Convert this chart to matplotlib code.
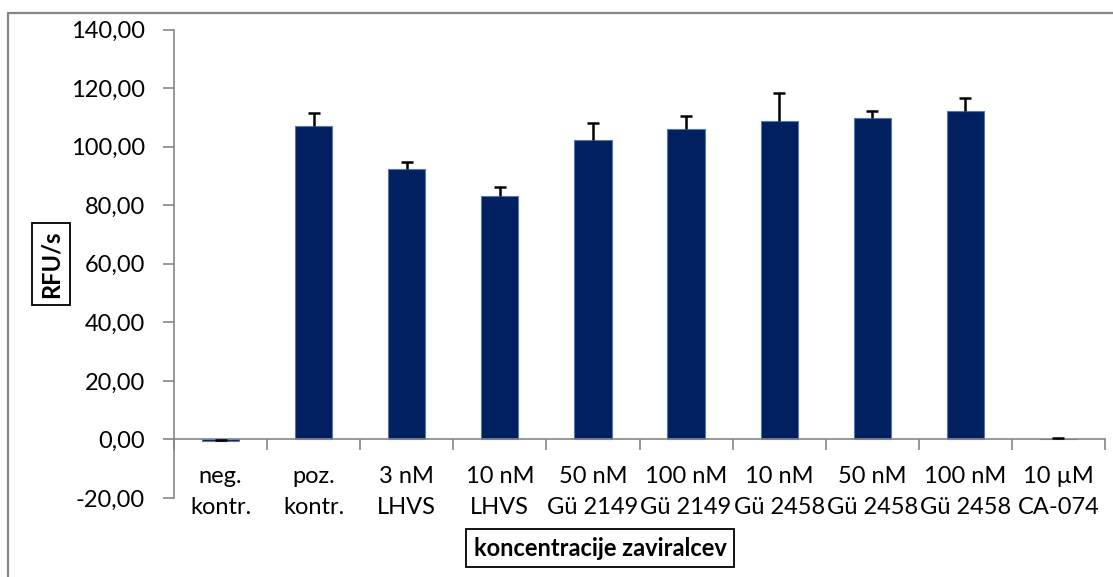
import matplotlib.pyplot as plt
from matplotlib.patches import Rectangle
from matplotlib.ticker import FuncFormatter

plt.rcParams['font.family'] = ['Lato', 'DejaVu Sans']

# inhibitor concentrations and measured activity
labels = ["neg.\nkontr.", "poz.\nkontr.", "3 nM\nLHVS", "10 nM\nLHVS",
          "50 nM\nGü 2149", "100 nM\nGü 2149", "10 nM\nGü 2458",
          "50 nM\nGü 2458", "100 nM\nGü 2458", "10 µM\nCA-074"]
rfu = [-0.4, 107.0, 92.5, 83.0, 102.3, 106.1, 108.6, 109.7, 112.1, 0.3]
rfu_err = [0.3, 4.4, 2.1, 3.3, 5.7, 4.4, 9.6, 2.3, 4.6, 0.2]

W, H = 1113, 577
fig = plt.figure(figsize=(W / 100, H / 100), dpi=100)

# plot area in pixel coordinates
x0, x1, ytop, ybot = 174, 1105, 29.5, 498
ax = fig.add_axes([x0 / W, (H - ybot) / H, (x1 - x0) / W, (ybot - ytop) / H])

n = len(labels)
pos = list(range(n))
ax.bar(pos, rfu, width=0.4, color='#002060', edgecolor='#5b76a8', linewidth=0.8, zorder=2)

# upper error bars only: stem plus a cap at the top
tops = [v + e for v, e in zip(rfu, rfu_err)]
ax.vlines(pos, rfu, tops, colors='black', linewidth=1.8, zorder=3)
ax.plot(pos, tops, linestyle='none', marker='_', markersize=9, markeredgewidth=1.8,
        color='black', zorder=3)

ax.set_xlim(-0.5, n - 0.5)
ax.set_ylim(-20, 140)
ax.set_yticks(range(-20, 141, 20))
ax.yaxis.set_major_formatter(FuncFormatter(lambda v, p: f"{v:.2f}".replace('.', ',')))

gray = '#868686'
for s in ['top', 'right']:
    ax.spines[s].set_visible(False)
ax.spines['left'].set_color(gray)
ax.spines['left'].set_linewidth(1.2)
ax.spines['bottom'].set_position(('data', 0))
ax.spines['bottom'].set_color(gray)
ax.spines['bottom'].set_linewidth(1.2)

# tick marks between categories, labels in the middle
ax.set_xticks([i - 0.5 for i in range(n + 1)])
ax.set_xticklabels([])
ax.set_xticks(pos, minor=True)
ax.set_xticklabels(labels, minor=True, fontsize=17, linespacing=1.6)
ax.tick_params(axis='x', which='major', direction='out', length=8, color=gray, width=1.2)
ax.tick_params(axis='x', which='minor', length=0, pad=19)
ax.tick_params(axis='y', direction='out', length=8, color=gray, width=1.2,
               labelsize=17, pad=13)

# axis titles in framed boxes
fig.text(600 / W, 1 - 548 / H, "koncentracije zaviralcev", fontsize=17,
         fontweight='bold', ha='center', va='center',
         bbox=dict(boxstyle='square,pad=0.3', fc='white', ec='black', lw=1.3))
fig.text(51 / W, 1 - 264 / H, "RFU/s", fontsize=17, fontweight='bold',
         rotation=90, ha='center', va='center',
         bbox=dict(boxstyle='square,pad=0.3', fc='white', ec='black', lw=1.3))

# chart area border
fig.patches.append(Rectangle((8 / W, -0.1), 1.2, 1 - 13 / H + 0.1, transform=fig.transFigure,
                             fill=False, ec=gray, lw=1.6))

fig.savefig("out.png", dpi=100)
